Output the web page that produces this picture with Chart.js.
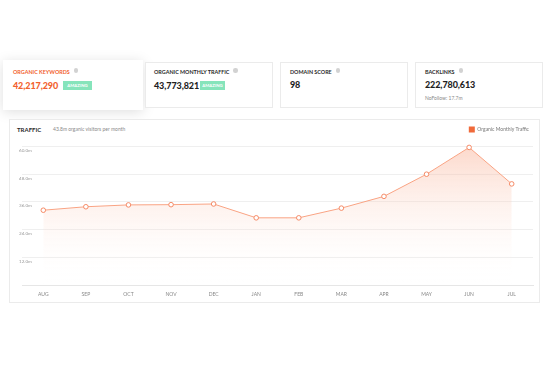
<!DOCTYPE html>
<html>
<head>
<meta charset="utf-8">
<script src="https://cdn.jsdelivr.net/npm/chart.js@4"></script>
<style>
  body { margin: 0; width: 550px; height: 370px; background: #fff; font-family: Lato, "Open Sans", sans-serif; position: relative; overflow: hidden; }
  .card { position: absolute; background: #fff; border: 1px solid #ebebeb; box-sizing: border-box; }
  .card.active { border: none; box-shadow: 0 2px 12px rgba(0,0,0,0.13); }
  .lbl { position: absolute; font-size: 5.4px; font-weight: 700; color: #2b2b2b; white-space: nowrap; }
  .lbl i { display: inline-block; width: 4.5px; height: 4.5px; border-radius: 50%; background: #d2d2d2; margin-left: 4px; vertical-align: 1px; }
  .num { position: absolute; font-size: 9px; font-weight: 900; color: #1f1f1f; white-space: nowrap; letter-spacing: -0.1px; }
  .badge { position: absolute; background: #86e4bb; color: #fff; font-size: 4.3px; font-weight: 700; width: 29px; height: 9px; line-height: 9px; text-align: center; }
  .sub { position: absolute; font-size: 5px; color: #8a8a8a; white-space: nowrap; }
  #wrap { position: absolute; left: 9px; top: 119px; width: 531px; height: 184px; }
</style>
</head>
<body>

<div class="card active" style="left:3px;top:60px;width:140px;height:50px;"></div>
<div class="lbl" style="left:13px;top:68px;color:#f2622e;">ORGANIC KEYWORDS<i></i></div>
<div class="num" style="left:13px;top:80px;color:#f2622e;">42,217,290</div>
<div class="badge" style="left:63px;top:81px;">AMAZING</div>

<div class="card" style="left:145px;top:62px;width:128px;height:46px;"></div>
<div class="lbl" style="left:154px;top:68px;">ORGANIC MONTHLY TRAFFIC<i></i></div>
<div class="num" style="left:154px;top:80px;">43,773,821</div>
<div class="badge" style="left:200px;top:81px;width:25px;">AMAZING</div>

<div class="card" style="left:280px;top:62px;width:128px;height:46px;"></div>
<div class="lbl" style="left:290px;top:68px;">DOMAIN SCORE<i></i></div>
<div class="num" style="left:290px;top:79px;">98</div>

<div class="card" style="left:415px;top:62px;width:128px;height:46px;"></div>
<div class="lbl" style="left:425px;top:68px;">BACKLINKS<i></i></div>
<div class="num" style="left:425px;top:79px;">222,780,613</div>
<div class="sub" style="left:425px;top:95px;">NoFollow: 17.7m</div>

<div class="card" style="left:9px;top:119px;width:531px;height:184px;"></div>
<div class="lbl" style="left:17px;top:126px;font-size:6px;">TRAFFIC</div>
<div class="sub" style="left:53px;top:126px;">43.8m organic visitors per month</div>

<div id="wrap"><canvas id="traffic"></canvas></div>

<script>
// traffic data (millions)
const months = ["AUG", "SEP", "OCT", "NOV", "DEC", "JAN", "FEB", "MAR", "APR", "MAY", "JUN", "JUL"];
const traffic = [32.4, 33.9, 34.7, 34.8, 35.1, 29.1, 29.1, 33.3, 38.4, 48.0, 59.6, 43.8];
const yTicks = [0, 12, 24, 36, 48, 60];

// push the chart area down below the legend
const legendGap = {
  id: "legendGap",
  beforeInit(chart) {
    const fit = chart.legend.fit;
    chart.legend.fit = function () {
      fit.bind(chart.legend)();
      this.height += 4;
    };
  },
};

const ctx = document.getElementById("traffic").getContext("2d");

const trafficChart = new Chart(ctx, {
  type: "line",
  data: {
    labels: months,
    datasets: [
      {
        label: "Organic Monthly Traffic",
        data: traffic,
        borderColor: "#f9a383",
        borderWidth: 1,
        tension: 0,
        fill: "origin",
        backgroundColor: (c) => {
          const area = c.chart.chartArea;
          if (!area) return "rgba(250,190,165,0.4)";
          const g = c.chart.ctx.createLinearGradient(0, area.top, 0, area.bottom);
          g.addColorStop(0, "rgba(249,170,140,0.45)");
          g.addColorStop(1, "rgba(255,255,255,0)");
          return g;
        },
        pointRadius: 2.3,
        pointBorderWidth: 1,
        pointBackgroundColor: "#fff",
        pointBorderColor: "#f58a66",
        clip: false,
      },
    ],
  },
  options: {
    responsive: true,
    maintainAspectRatio: false,
    animation: false,
    layout: { padding: { left: 13, right: 7, top: 3.5, bottom: 0 } },
    plugins: {
      legend: {
        position: "top",
        align: "end",
        labels: {
          boxWidth: 6,
          boxHeight: 6,
          padding: 4,
          color: "#777",
          font: { size: 5, family: "Lato" },
          generateLabels(chart) {
            return Chart.defaults.plugins.legend.labels.generateLabels(chart).map((l) => {
              l.fillStyle = "#f06a3a";
              l.strokeStyle = "#f06a3a";
              l.lineWidth = 0;
              return l;
            });
          },
        },
      },
      tooltip: { enabled: false },
    },
    scales: {
      x: {
        offset: true,
        grid: { display: false, drawTicks: false },
        border: { display: true, color: "#e6e6e6" },
        ticks: { color: "#888", padding: 6, font: { size: 5, family: "Lato" } },
      },
      y: {
        min: 0,
        max: 60,
        afterBuildTicks(scale) {
          scale.ticks = yTicks.map((v) => ({ value: v }));
        },
        grid: { color: "#efefef", drawTicks: false },
        border: { display: false },
        ticks: {
          mirror: true,
          padding: -1,
          labelOffset: 4,
          color: "#999",
          font: { size: 4.6, family: "Lato" },
          callback: (v) => (v === 0 ? "" : v.toFixed(1) + "m"),
        },
      },
    },
  },
  plugins: [legendGap],
});
</script>
</body>
</html>
